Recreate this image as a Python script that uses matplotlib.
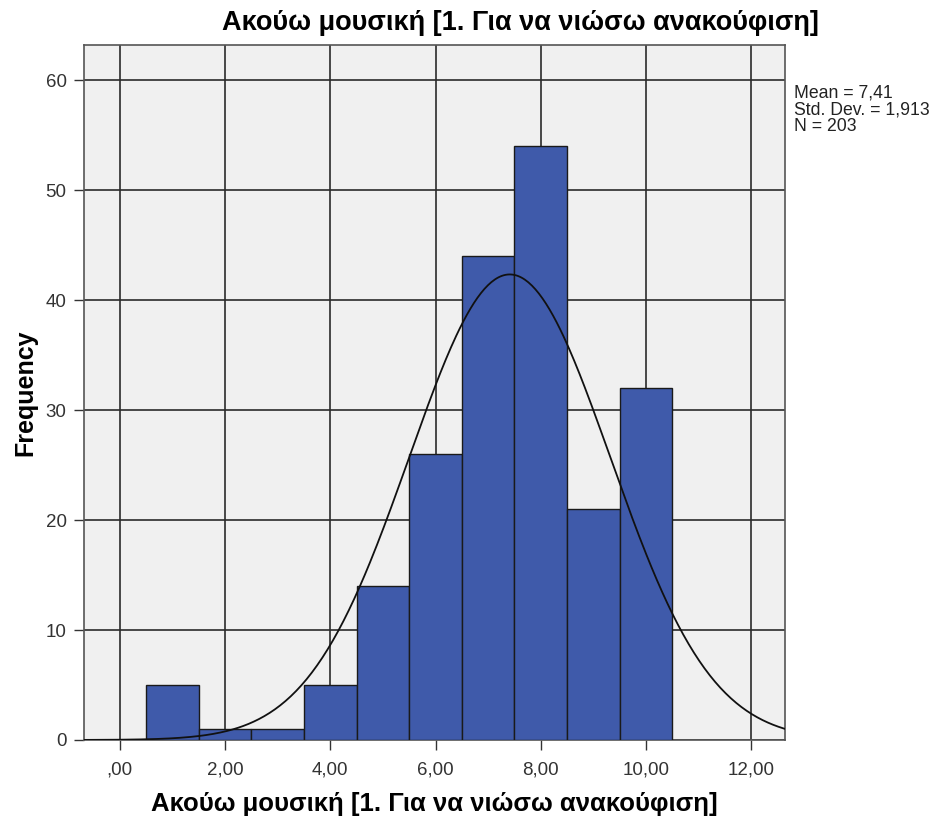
import numpy as np
import matplotlib.pyplot as plt

# bin centres and counts
centers = [1, 2, 3, 4, 5, 6, 7, 8, 9, 10]
counts = [5, 1, 1, 5, 14, 26, 44, 54, 21, 32]
mean = 7.41
std = 1.913
n = 203

title = "Ακούω μουσική [1. Για να νιώσω ανακούφιση]"
xticks = [0, 2, 4, 6, 8, 10, 12]
xticklabels = [",00", "2,00", "4,00", "6,00", "8,00", "10,00", "12,00"]
yticks = [0, 10, 20, 30, 40, 50, 60]

plt.rcParams['font.family'] = ['Liberation Sans', 'DejaVu Sans']

fig = plt.figure(figsize=(9.42, 8.21), dpi=100)
ax = fig.add_axes([0.0892, 0.0987, 0.7441, 0.8465])
ax.set_facecolor('#f0f0f0')

ax.bar(centers, counts, width=1.0, color='#3f5aaa', edgecolor='#1a1a1a',
       linewidth=1.0, zorder=3)

# normal curve scaled to counts (bin width 1)
xs = np.linspace(-0.7, 12.65, 400)
pdf = n * 1.0 / (std * np.sqrt(2 * np.pi)) * np.exp(-0.5 * ((xs - mean) / std) ** 2)
ax.plot(xs, pdf, color='#111111', linewidth=1.3, zorder=4)

ax.set_xlim(-0.68, 12.64)
ax.set_ylim(0, 63.2)
ax.set_xticks(xticks)
ax.set_xticklabels(xticklabels, fontsize=13.5, color='#333333')
ax.set_yticks(yticks)
ax.set_yticklabels([str(v) for v in yticks], fontsize=13.5, color='#333333')
ax.grid(True, color='#2a2a2a', linewidth=1.2, zorder=0)
ax.set_axisbelow(True)
ax.tick_params(length=7.5, width=1.0, color='#333333', pad=5)
ax.tick_params(axis='x', pad=8)
for s in ax.spines.values():
    s.set_color('#555555')
    s.set_linewidth(1.2)

# SPSS puts the title off-centre, over the whole chart incl. the stats box
fig.text(0.552, 0.972, title, fontsize=19.5, fontweight='bold', ha='center', va='center')
ax.set_xlabel(title, fontsize=18.5, fontweight='bold', labelpad=10)
ax.set_ylabel("Frequency", fontsize=18, fontweight='bold', labelpad=6)

fig.text(0.8428, 0.8965, "Mean = 7,41\nStd. Dev. = 1,913\nN = 203",
         fontsize=12.7, va='top', ha='left', linespacing=0.97, color='#222222')

fig.savefig("out.png", dpi=100)
